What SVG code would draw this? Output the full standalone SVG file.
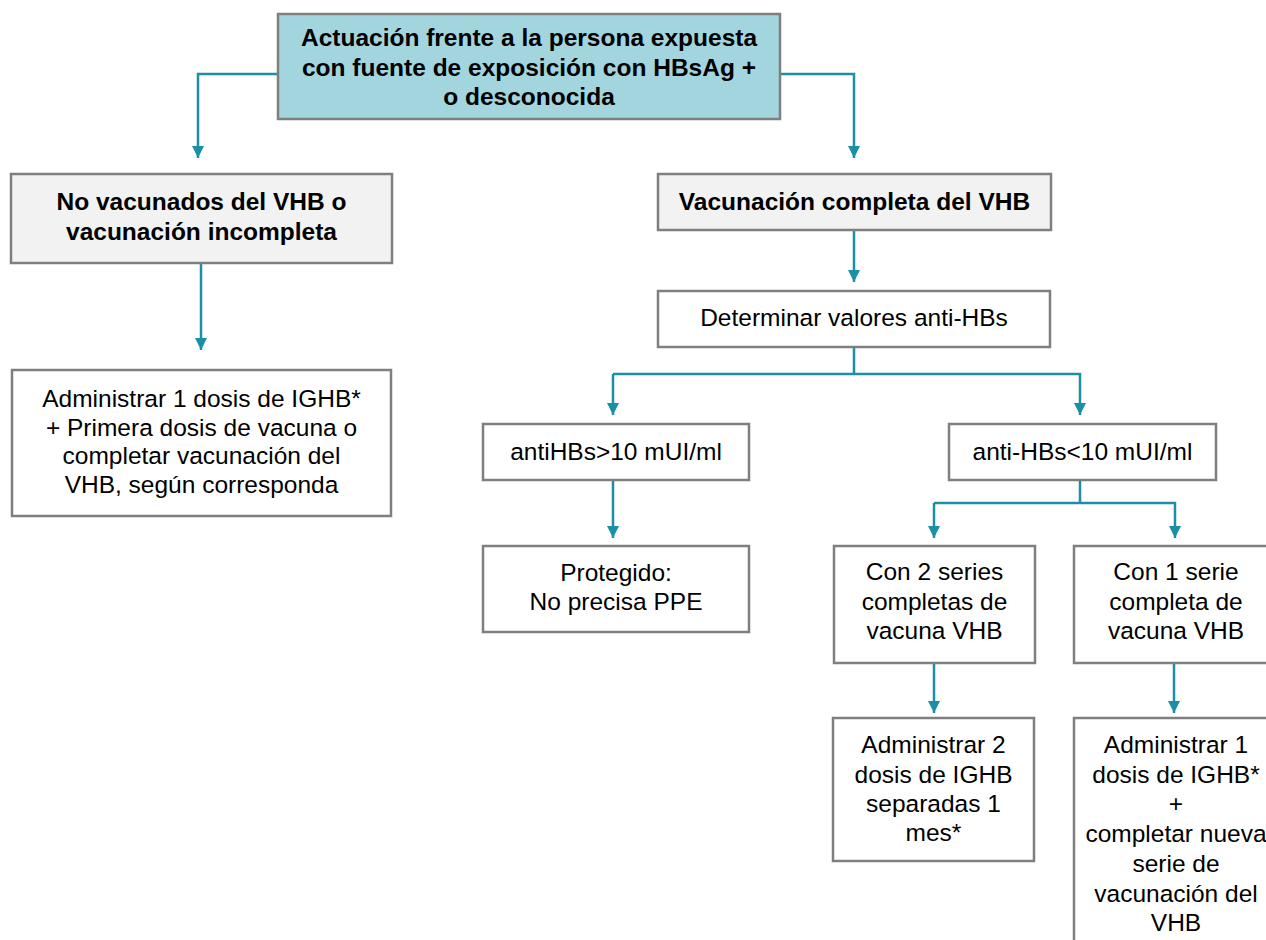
<svg xmlns="http://www.w3.org/2000/svg" width="1266" height="940" viewBox="0 0 1266 940">
<defs>
<style>
.box{stroke:#7f7f7f;stroke-width:2.5;fill:#ffffff}
.gray{fill:#f2f2f2}
.teal{fill:#a3d5df}
.t{font-family:"Liberation Sans",Arial,sans-serif;font-size:24.5px;fill:#000;text-anchor:middle}
.b{font-weight:bold}
.c{fill:none;stroke:#1b8fa6;stroke-width:2.5}
</style>
<marker id="ad" markerUnits="userSpaceOnUse" markerWidth="14" markerHeight="14" viewBox="0 0 14 14" refX="7" refY="13" orient="0">
<path d="M1,1 L13,1 L7,13 Z" fill="#1b8fa6"/>
</marker>
</defs>
<rect width="1266" height="940" fill="#ffffff"/>
<g id="connectors">
<path class="c" d="M278 74 H198 V158" marker-end="url(#ad)"/>
<path class="c" d="M780 74 H854 V158" marker-end="url(#ad)"/>
<path class="c" d="M201 263 V350" marker-end="url(#ad)"/>
<path class="c" d="M854 230 V282" marker-end="url(#ad)"/>
<path class="c" d="M854 347 V374"/>
<path class="c" d="M613 374 V415" marker-end="url(#ad)"/>
<path class="c" d="M613 374 H1080 V415" marker-end="url(#ad)"/>
<path class="c" d="M613 480 V538" marker-end="url(#ad)"/>
<path class="c" d="M1080 480 V503"/>
<path class="c" d="M934 503 V538" marker-end="url(#ad)"/>
<path class="c" d="M934 503 H1175 V538" marker-end="url(#ad)"/>
<path class="c" d="M934 663 V713" marker-end="url(#ad)"/>
<path class="c" d="M1174 663 V713" marker-end="url(#ad)"/>
</g>
<g id="n-top">
<rect class="box teal" x="278" y="14" width="502" height="105"/>
<text class="t b" x="529" y="46">Actuación frente a la persona expuesta</text>
<text class="t b" x="529" y="75.5">con fuente de exposición con HBsAg +</text>
<text class="t b" x="529" y="104.5">o desconocida</text>
</g>
<g id="n-novac">
<rect class="box gray" x="11" y="174" width="381" height="89"/>
<text class="t b" x="201.5" y="210">No vacunados del VHB o</text>
<text class="t b" x="201.5" y="240">vacunación incompleta</text>
</g>
<g id="n-admin-left">
<rect class="box" x="12" y="370" width="379" height="146"/>
<text class="t" x="201.5" y="407">Administrar 1 dosis de IGHB*</text>
<text class="t" x="201.5" y="435.5">+ Primera dosis de vacuna o</text>
<text class="t" x="201.5" y="464">completar vacunación del</text>
<text class="t" x="201.5" y="492.5">VHB, según corresponda</text>
</g>
<g id="n-vac">
<rect class="box gray" x="658" y="174" width="393" height="56"/>
<text class="t b" x="854.5" y="210">Vacunación completa del VHB</text>
</g>
<g id="n-det">
<rect class="box" x="658" y="291" width="392" height="56"/>
<text class="t" x="854" y="326">Determinar valores anti-HBs</text>
</g>
<g id="n-gt10">
<rect class="box" x="483" y="424" width="266" height="56"/>
<text class="t" x="616" y="460">antiHBs&gt;10 mUI/ml</text>
</g>
<g id="n-lt10">
<rect class="box" x="949" y="424" width="267" height="56"/>
<text class="t" x="1082.5" y="460">anti-HBs&lt;10 mUI/ml</text>
</g>
<g id="n-prot">
<rect class="box" x="483" y="546" width="266" height="86"/>
<text class="t" x="616" y="581">Protegido:</text>
<text class="t" x="616" y="610">No precisa PPE</text>
</g>
<g id="n-con2">
<rect class="box" x="834" y="546" width="201" height="117"/>
<text class="t" x="934.5" y="580">Con 2 series</text>
<text class="t" x="934.5" y="609.5">completas de</text>
<text class="t" x="934.5" y="639">vacuna VHB</text>
</g>
<g id="n-con1">
<rect class="box" x="1074" y="546" width="204" height="117"/>
<text class="t" x="1176" y="580">Con 1 serie</text>
<text class="t" x="1176" y="609.5">completa de</text>
<text class="t" x="1176" y="639">vacuna VHB</text>
</g>
<g id="n-admin2">
<rect class="box" x="833" y="718" width="201" height="143"/>
<text class="t" x="933.5" y="753">Administrar 2</text>
<text class="t" x="933.5" y="782.5">dosis de IGHB</text>
<text class="t" x="933.5" y="812">separadas 1</text>
<text class="t" x="933.5" y="841">mes*</text>
</g>
<g id="n-admin1">
<rect class="box" x="1074" y="718" width="204" height="240"/>
<text class="t" x="1176" y="753">Administrar 1</text>
<text class="t" x="1176" y="782.7">dosis de IGHB*</text>
<text class="t" x="1176" y="812.4">+</text>
<text class="t" x="1176" y="842.1">completar nueva</text>
<text class="t" x="1176" y="871.8">serie de</text>
<text class="t" x="1176" y="901.5">vacunación del</text>
<text class="t" x="1176" y="931">VHB</text>
</g>
</svg>
